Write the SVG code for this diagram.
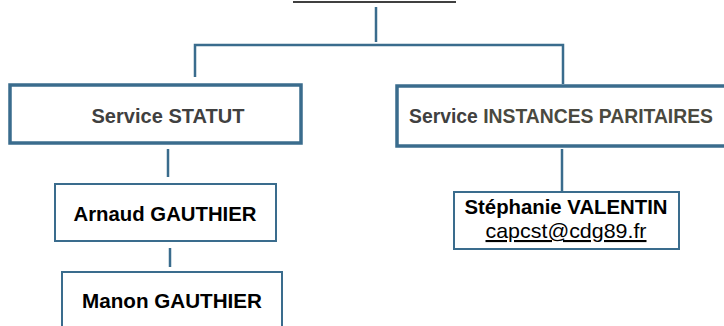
<svg xmlns="http://www.w3.org/2000/svg" width="724" height="326" viewBox="0 0 724 326">
<style>
.c{stroke:#3a6c8d;stroke-width:2.5;fill:none}
.big{fill:#fff;stroke:#3a6c8d;stroke-width:3.5}
.sm{fill:#fff;stroke:#3a6c8d;stroke-width:2}
text{font-family:"Liberation Sans",Arial,sans-serif;font-size:21px;text-anchor:middle}
.b{font-weight:bold}
.svc{fill:#404040}
.nm{fill:#000}
</style>
<rect width="724" height="326" fill="#fff"/>
<line x1="293" y1="2" x2="456" y2="2" stroke="#000" stroke-width="1.5"/>
<g id="connectors">
<line class="c" x1="376" y1="7" x2="376" y2="42"/>
<polyline class="c" points="195,77 195,45 563,45 563,84"/>
<line class="c" x1="168" y1="149" x2="168" y2="177"/>
<line class="c" x1="170" y1="248" x2="170" y2="267"/>
<line class="c" x1="562" y1="149" x2="562" y2="191"/>
</g>
<g id="service-statut">
<rect class="big" x="10" y="85" width="291" height="58"/>
<text class="b svc" x="168" y="123" textLength="153" lengthAdjust="spacingAndGlyphs">Service STATUT</text>
</g>
<g id="service-instances">
<rect class="big" x="397" y="86" width="340" height="60"/>
<text class="b" x="561" y="123" textLength="304" lengthAdjust="spacingAndGlyphs"><tspan class="svc">Service </tspan><tspan fill="#4a4940">INSTANCES PARITAIRES</tspan></text>
</g>
<g id="arnaud">
<rect class="sm" x="55" y="184" width="221" height="57"/>
<text class="b nm" x="165" y="221" textLength="183" lengthAdjust="spacingAndGlyphs">Arnaud GAUTHIER</text>
</g>
<g id="manon">
<rect class="sm" x="62" y="272" width="220" height="70"/>
<text class="b nm" x="172" y="308" textLength="180" lengthAdjust="spacingAndGlyphs">Manon GAUTHIER</text>
</g>
<g id="stephanie">
<rect class="sm" x="454" y="192" width="225" height="57"/>
<text class="b nm" x="566" y="214" textLength="203" lengthAdjust="spacingAndGlyphs">Stéphanie VALENTIN</text>
<text class="nm" x="566" y="238" textLength="161" lengthAdjust="spacingAndGlyphs" text-decoration="underline">capcst@cdg89.fr</text>
</g>
</svg>
